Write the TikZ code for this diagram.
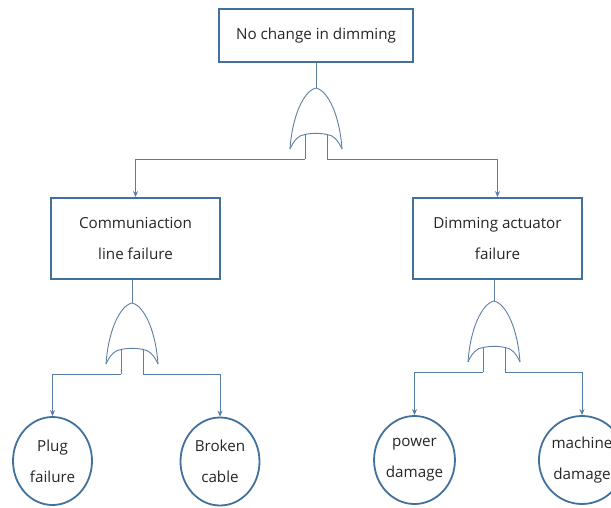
\documentclass[tikz,border=0pt]{standalone}
\usepackage{fontspec}
\setmainfont{Open Sans}
\usetikzlibrary{shapes.geometric,arrows.meta}
\definecolor{boxblue}{RGB}{65,113,156}
\definecolor{lineblue}{RGB}{84,125,168}
\definecolor{gateblue}{RGB}{95,128,165}
\tikzset{
  lbl/.style={font={\fontsize{15.2}{31}\selectfont}, align=center, text=black!85},
  evbox/.style={lbl, draw=boxblue, line width=1.8pt, rectangle, inner sep=0pt},
  basic/.style={lbl, draw=boxblue, line width=1.8pt, ellipse, inner sep=0pt, minimum width=79pt, minimum height=88pt},
  gateline/.style={draw=gateblue, line width=0.9pt},
  conn/.style={draw=lineblue, line width=1pt, -{Stealth[length=6pt,width=5pt]}},
  stem/.style={draw=gateblue, line width=0.9pt},
  orgate/.pic={
    \coordinate (-top) at (0,0);
    \coordinate (-l) at (-11,71);
    \coordinate (-r) at (11,71);
    \draw[gateline] (-26,61) .. controls (-24,30) and (-13,3) .. (0,0) .. controls (13,3) and (24,30) .. (26,61);
    \draw[gateline] (-26,61) .. controls (-22,52) and (-17,47) .. (-11,46.5) .. controls (-5,45) and (5,45) .. (11,46.5) .. controls (17,47) and (22,52) .. (26,61);
    \draw[gateline] (-11,46.5) -- (-l);
    \draw[gateline] (11,46.5) -- (-r);
  }
}
\begin{document}
\begin{tikzpicture}[x=1pt,y=-1pt]
\useasboundingbox (0,0) rectangle (611,507);
\clip (0,0) rectangle (611,507);
\fill[white] (0,0) rectangle (611,507);

\node[evbox, minimum width=194pt, minimum height=53pt] (top) at (316,35.5) {No change in dimming};
\node[evbox, minimum width=169pt, minimum height=81pt] (lb) at (135.5,238.5) {Communiaction\\line failure};
\node[evbox, minimum width=169pt, minimum height=81pt] (rb) at (497.5,238.5) {Dimming actuator\\failure};

\node[basic] (c1) at (52.5,461) {Plug\\failure};
\node[basic] (c2) at (220,461.5) {Broken\\cable};
\node[basic] (c3) at (414.5,460) {power\\damage};
\node[basic] (c4) at (582,460) {machine\\damage};

\pic (g1) at (316,88) {orgate};
\pic (g2) at (132,303) {orgate};
\pic (g3) at (494,301) {orgate};

\draw[stem] (g1-top) -- (g1-top |- top.south);
\draw[stem] (g2-top) -- (g2-top |- lb.south);
\draw[stem] (g3-top) -- (g3-top |- rb.south);

\draw[conn] (g1-l) -| (lb.north);
\draw[conn] (g1-r) -| (rb.north);
\draw[conn] (g2-l) -| (c1.north);
\draw[conn] (g2-r) -| (c2.north);
\draw[conn] (g3-l) -| (c3.north);
\draw[conn] (g3-r) -| (c4.north);
\end{tikzpicture}
\end{document}
